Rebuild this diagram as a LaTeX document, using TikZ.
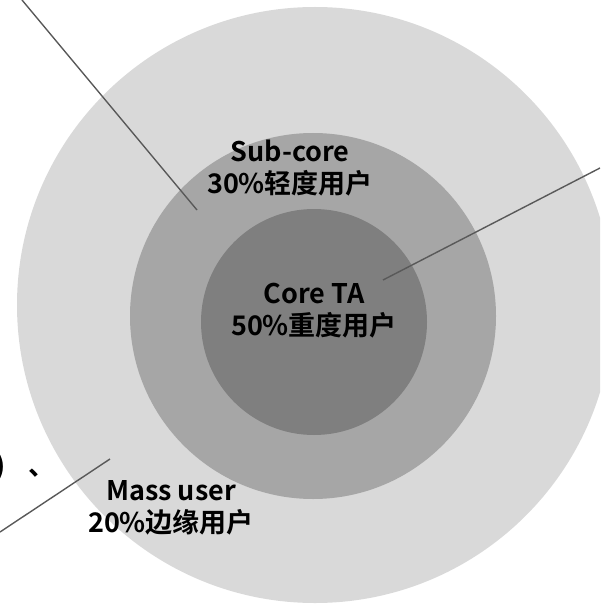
\documentclass[tikz,border=0pt]{standalone}
\usepackage{fontspec}
\setmainfont{Noto Sans CJK SC}[BoldFont={* Bold}]
\definecolor{ringouter}{HTML}{D9D9D9}
\definecolor{ringmid}{HTML}{A6A6A6}
\definecolor{ringinner}{HTML}{7F7F7F}
\definecolor{leader}{HTML}{595959}
\begin{document}
\begin{tikzpicture}[x=1pt,y=-1pt,
  lbl/.style={font=\bfseries\fontsize{27}{32}\selectfont, align=center, inner sep=0pt, text=black},
  leadline/.style={draw=leader, line width=1.4pt}]
\useasboundingbox (0,0) rectangle (600,604);
\clip (0,0) rectangle (600,604);
\fill[ringouter] (315,305) circle[radius=298];
\fill[ringmid] (313,316) circle[radius=183];
\fill[ringinner] (314,322) circle[radius=113];
\node[lbl] (sub) at (290,168) {Sub-core\\30\%轻度用户};
\node[lbl] (core) at (314,311) {Core TA\\50\%重度用户};
\node[lbl] (mass) at (171,508) {Mass user\\20\%边缘用户};
\node[lbl, anchor=base west] (clip) at (-5,475) {)\hspace{23pt}、};
\coordinate (a1) at (22,0);
\coordinate (a2) at (197,210);
\coordinate (b1) at (600,168);
\coordinate (b2) at (383,280);
\coordinate (c1) at (0,532);
\coordinate (c2) at (110,459);
\draw[leadline] (a1) -- (a2);
\draw[leadline] (b1) -- (b2);
\draw[leadline] (c1) -- (c2);
\end{tikzpicture}
\end{document}
